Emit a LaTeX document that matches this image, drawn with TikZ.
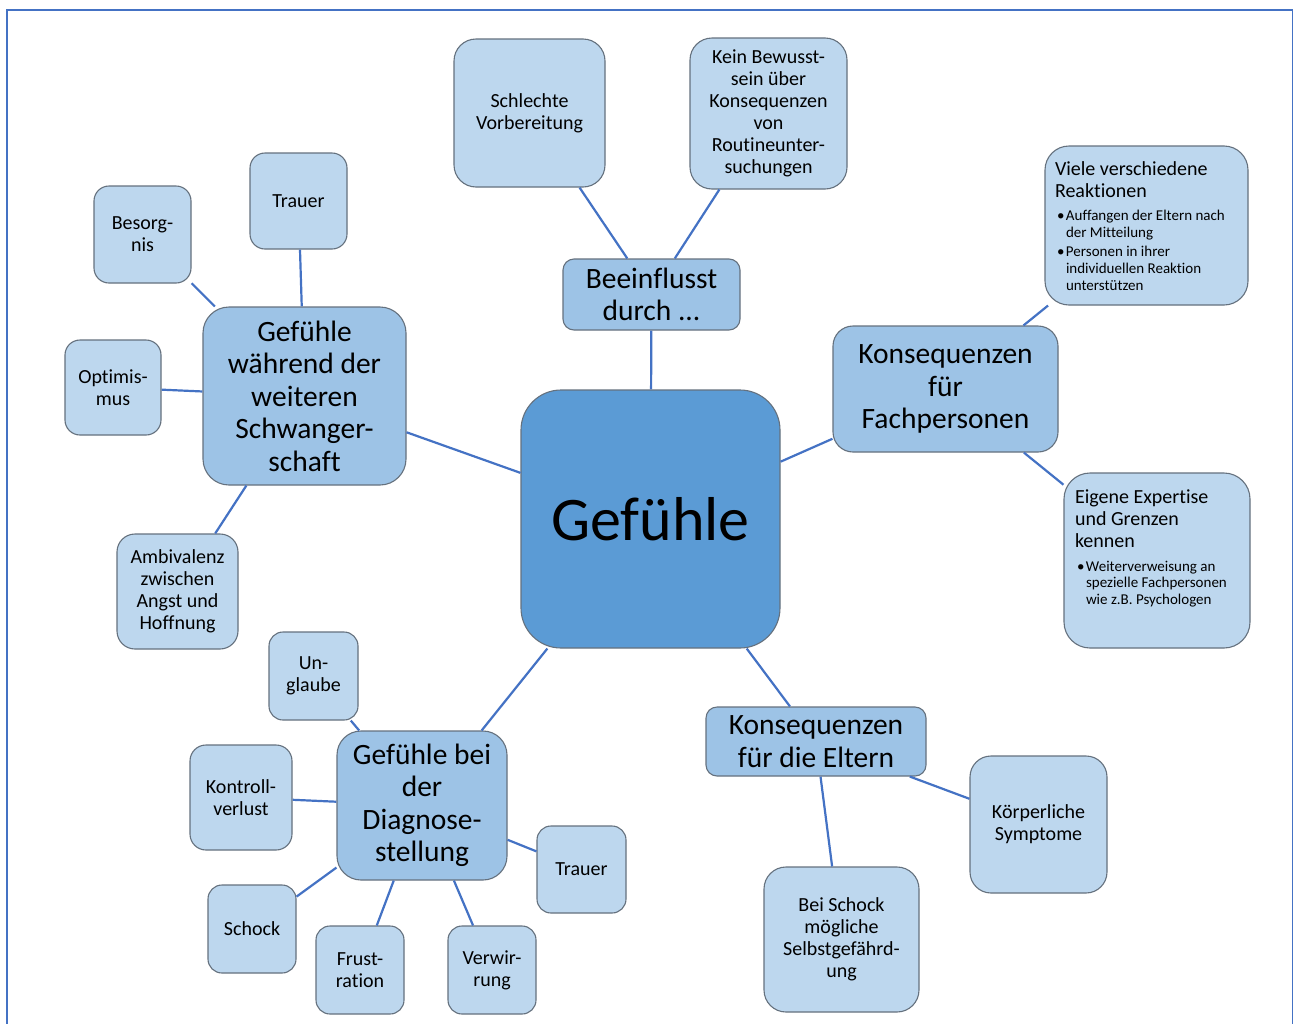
\documentclass[tikz,border=0pt]{standalone}
\usepackage{fontspec}
\setmainfont{Carlito}[Ligatures=NoCommon]
\definecolor{ctrfill}{HTML}{5B9BD5}
\definecolor{midfill}{HTML}{9DC3E6}
\definecolor{leaffill}{HTML}{BDD7EE}
\definecolor{edgecol}{HTML}{4472C4}
\definecolor{bordcol}{HTML}{65717E}
\newcommand{\bulitem}[1]{\par\hangindent=11pt\hangafter=1\noindent\hspace*{2pt}\makebox[9pt][l]{\textbullet}#1}
\begin{document}
\begin{tikzpicture}[x=1pt,y=-1pt,
  box/.style={draw=bordcol, line width=1.1pt, align=center, inner sep=0pt},
  leaf/.style={box, fill=leaffill, font=\fontsize{20}{22}\selectfont},
  mid/.style={box, fill=midfill, font=\fontsize{29.5}{32.5}\selectfont},
  hub/.style={box, fill=ctrfill, font=\fontsize{62}{72}\selectfont},
  link/.style={draw=edgecol, line width=2.2pt}]
\useasboundingbox (0,0) rectangle (1293,1023);
\fill[white] (0,0) rectangle (1293,1023);
\draw[edgecol, line width=2pt] (6.5,1040) -- (6.5,9.5) -- (1292.5,9.5) -- (1292.5,1040);

% hub and middle nodes
\node[hub, minimum width=259pt, minimum height=258pt, rounded corners=40pt] (ctr) at (650.5,519) {Gefühle};
\node[mid, minimum width=177pt, minimum height=71pt, rounded corners=11pt] (infl) at (651.5,294.5) {Beeinflusst\\durch ...};
\node[mid, minimum width=203pt, minimum height=178pt, rounded corners=26pt] (schw) at (304.5,396) {Gefühle\\während der\\weiteren\\Schwanger-\\schaft};
\node[mid, minimum width=225pt, minimum height=126pt, rounded corners=20pt] (fach) at (945.5,389) {Konsequenzen\\für\\Fachpersonen};
\node[mid, minimum width=220pt, minimum height=69pt, rounded corners=11pt] (elt) at (816,741.5) {Konsequenzen\\für die Eltern};
\node[mid, minimum width=170pt, minimum height=149pt, rounded corners=24pt] (diag) at (422,805.5) {Gefühle bei\\der\\Diagnose-\\stellung};

% leaves
\node[leaf, minimum width=151pt, minimum height=148pt, rounded corners=22pt] (schl) at (529.5,113) {Schlechte\\Vorbereitung};
\node[leaf, minimum width=157pt, minimum height=151pt, rounded corners=22pt] (kein) at (768.5,113.5) {Kein Bewusst-\\sein über\\Konsequenzen\\von\\Routineunter-\\suchungen};
\node[leaf, minimum width=203pt, minimum height=159pt, rounded corners=24pt, align=left] (viele) at (1146.5,225.5)
  {\parbox[c][127pt][t]{183pt}{\raggedright Viele verschiedene\\Reaktionen\par\vspace{6pt}\fontsize{15}{17}\selectfont
   \bulitem{Auffangen der Eltern nach\hfill\break der Mitteilung}\par\vspace{1.5pt}
   \bulitem{Personen in ihrer\hfill\break individuellen Reaktion\hfill\break unterstützen}\par}};
\node[leaf, minimum width=186pt, minimum height=175pt, rounded corners=26pt, align=left] (eig) at (1157,560.5)
  {\parbox[c][141pt][t]{164pt}{\raggedright Eigene Expertise\\und Grenzen\\kennen\par\vspace{7pt}\fontsize{15}{16.5}\selectfont
   \bulitem{Weiterverweisung an\hfill\break spezielle Fachpersonen\hfill\break wie z.B. Psychologen}\par}};
\node[leaf, minimum width=137pt, minimum height=137pt, rounded corners=21pt] (koerp) at (1038.5,824.5) {Körperliche\\Symptome};
\node[leaf, minimum width=155pt, minimum height=145pt, rounded corners=22pt] (bei) at (841.5,939.5) {Bei Schock\\mögliche\\Selbstgefährd-\\ung};
\node[leaf, minimum width=89pt, minimum height=87pt, rounded corners=14pt] (traB) at (581.5,869.5) {Trauer};
\node[leaf, minimum width=88pt, minimum height=88pt, rounded corners=14pt] (verw) at (492,970) {Verwir-\\rung};
\node[leaf, minimum width=88pt, minimum height=88pt, rounded corners=14pt] (frust) at (360,970) {Frust-\\ration};
\node[leaf, minimum width=88pt, minimum height=88pt, rounded corners=14pt] (schock) at (252,929) {Schock};
\node[leaf, minimum width=102pt, minimum height=105pt, rounded corners=16pt] (kontr) at (241,797.5) {Kontroll-\\verlust};
\node[leaf, minimum width=89pt, minimum height=88pt, rounded corners=14pt] (ungl) at (313.5,676) {Un-\\glaube};
\node[leaf, minimum width=121pt, minimum height=115pt, rounded corners=18pt] (ambi) at (177.5,591.5) {Ambivalenz\\zwischen\\Angst und\\Hoffnung};
\node[leaf, minimum width=96pt, minimum height=95pt, rounded corners=15pt] (opti) at (113,387.5) {Optimis-\\mus};
\node[leaf, minimum width=97pt, minimum height=97pt, rounded corners=15pt] (bes) at (142.5,234.5) {Besorg-\\nis};
\node[leaf, minimum width=97pt, minimum height=96pt, rounded corners=15pt] (traT) at (298.5,201) {Trauer};

% connectors
\draw[link] (infl) -- (ctr);
\draw[link] (schl) -- (infl);
\draw[link] (kein) -- (infl);
\draw[link] (schw) -- (ctr);
\draw[link] (traT) -- (schw);
\draw[link] (bes) -- (schw);
\draw[link] (opti) -- (schw);
\draw[link] (ambi) -- (schw);
\draw[link] (ctr) -- (fach);
\draw[link] (viele) -- (fach);
\draw[link] (eig) -- (fach);
\draw[link] (ctr) -- (elt);
\draw[link] (elt) -- (koerp);
\draw[link] (elt) -- (bei);
\draw[link] (ctr) -- (diag);
\draw[link] (ungl) -- (diag);
\draw[link] (kontr) -- (diag);
\draw[link] (schock) -- (diag);
\draw[link] (frust) -- (diag);
\draw[link] (verw) -- (diag);
\draw[link] (traB) -- (diag);
\end{tikzpicture}
\end{document}
